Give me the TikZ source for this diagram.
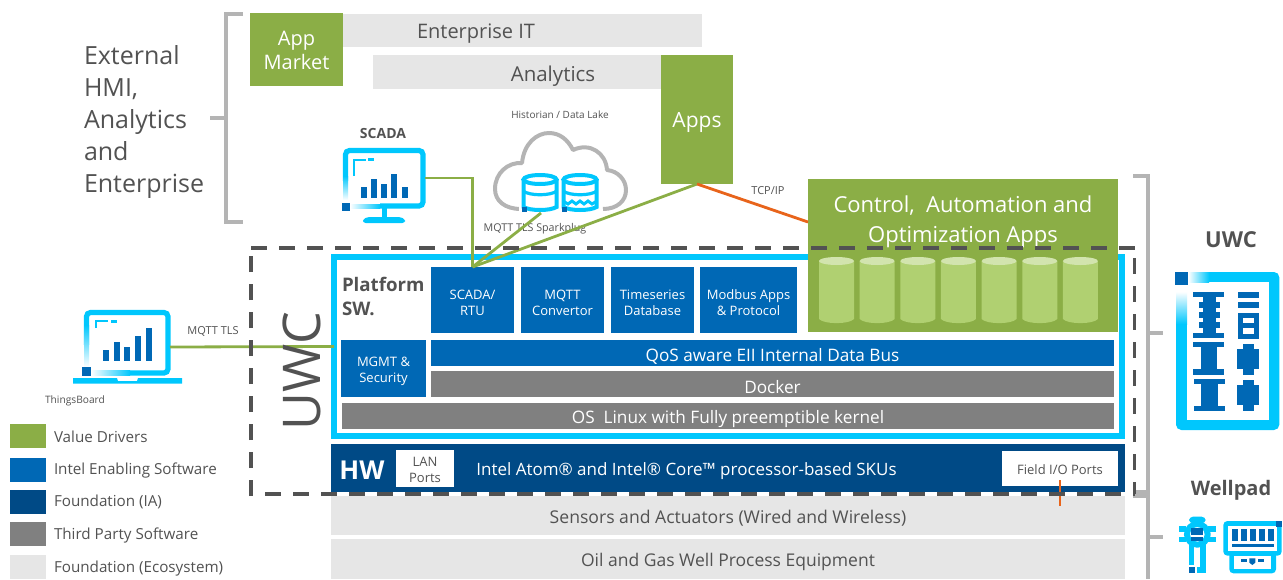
\documentclass[tikz,border=0pt]{standalone}
\usepackage{fontspec}
\setmainfont{Open Sans}
\usetikzlibrary{fit}
\definecolor{ucyan}{HTML}{00C7FD}
\definecolor{ublue}{HTML}{0068B5}
\definecolor{udark}{HTML}{004A86}
\definecolor{ugreen}{HTML}{8BAE46}
\definecolor{ugrey}{HTML}{808080}
\definecolor{ulight}{HTML}{E6E6E6}
\definecolor{utext}{HTML}{525252}
\definecolor{ubrk}{HTML}{B4B4B4}
\definecolor{uorange}{HTML}{E8641B}
\definecolor{ucylb}{HTML}{B0D071}
\definecolor{ucylt}{HTML}{D2E4AE}
\newcommand{\fsz}[2]{\fontsize{\dimexpr#1pt*3/4\relax}{\dimexpr#2pt*3/4\relax}\selectfont}
\newcommand{\tdy}{-2.2pt}
% \bx{name}{x1}{y1}{x2}{y2}{box style}{text style}{text}
\newcommand{\bx}[8]{%
  \pgfmathsetmacro{\bxw}{(#4-#2)*0.75}\pgfmathsetmacro{\bxh}{(#5-#3)*0.75}%
  \node[block,#6,minimum width=\bxw pt,minimum height=\bxh pt] (#1) at ({(#2+#4)/2},{(#3+#5)/2}) {};%
  \node[lab,text=white,#7] (#1text) at ([yshift=\tdy]#1.center) {#8};}
\tikzset{
  x=0.75pt,y=-0.75pt,
  block/.style={inner sep=0pt,outer sep=0pt},
  anchorbox/.style={inner sep=0pt,outer sep=0pt},
  lab/.style={inner sep=0pt,outer sep=0pt,text=utext,align=center},
  brk/.style={draw=ubrk,line width=2.6pt},
  link/.style={draw=ugreen,line width=2.1pt},
  olink/.style={draw=uorange,line width=2.1pt},
  dashline/.style={draw=utext,line width=2.7pt,dash pattern=on 12pt off 9pt},
  iconline/.style={draw=ucyan,line width=3.9pt,rounded corners=3pt},
  small/.style={font=\fsz{13}{16}},
  wide/.style={font=\fsz{17.2}{21}},
}
\begin{document}
\begin{tikzpicture}
\useasboundingbox (0,0) rectangle (1283,579);
% brackets
\draw[brk] (243,14) -- (226,14) -- (226,222) -- (243,222);
\draw[brk] (210,118) -- (226,118);
\draw[brk] (1133,176) -- (1148,176) -- (1148,492) -- (1133,492);
\draw[brk] (1148,333) -- (1163,333);
\draw[brk] (1133,496) -- (1148,496) -- (1148,579);
\draw[brk] (1148,537) -- (1163,537);
% top boxes
\node[block,fill=ulight,fit={(343,14)(702,47)}] (entit) {};
\node[lab,font=\fsz{20}{25}] (entittext) at (476,33.5) {Enterprise IT};
\node[block,fill=ulight,fit={(373,55)(662,89)}] (analytics) {};
\node[lab,font=\fsz{20.5}{25}] (analyticstext) at (553,76) {Analytics};
\renewcommand{\tdy}{-0.6pt}
\bx{appmarket}{250}{13}{343}{86}{fill=ugreen}{font=\fsz{20}{24}}{App\\Market}
\renewcommand{\tdy}{-2.2pt}
\bx{apps}{661}{55}{733}{184}{fill=ugreen}{font=\fsz{21}{25}}{Apps}
\node[lab,anchor=west,align=left,font=\fsz{25}{32}] (extlabel) at (84,122) {External\\HMI,\\Analytics\\and\\Enterprise};
% cloud
\draw[ubrk,line width=3pt,fill=white,line join=round]
  (521,209) .. controls (505,209) and (495,201) .. (495,189)
  .. controls (495,173) and (508,162) .. (522,163)
  .. controls (524,143) and (537,133) .. (549,133)
  .. controls (560,133) and (568,140) .. (573,150)
  .. controls (590,142) and (606,153) .. (607,170)
  .. controls (618,171) and (626,180) .. (626,190)
  .. controls (626,201) and (617,209) .. (603,209);
\node[lab,font=\fsz{10}{13}] (historian) at (560,115) {Historian / Data Lake};
% db icons
\foreach \cx in {540,580}{
  \fill[white] (\cx-21,176) rectangle (\cx+21,213);
  \draw[ucyan,line width=3pt] (\cx,179.5) ellipse [x radius=16.5,y radius=4.5];
  \draw[ucyan,line width=3pt] (\cx-16.5,179.5) -- (\cx-16.5,207) .. controls (\cx-10,211) and (\cx+10,211) .. (\cx+16.5,207) -- (\cx+16.5,179.5);
  \fill[ublue] (\cx-18,207) rectangle (\cx-13,212);
}
\draw[ucyan,line width=2.4pt] (523,191) .. controls (530,196) and (550,196) .. (557,191);
\draw[ucyan,line width=2.4pt] (563,191) .. controls (570,196) and (590,196) .. (597,191);
\draw[ucyan,line width=2.2pt] (563,201) -- (568,204) -- (572,201) -- (576,204) -- (580,201) -- (584,204) -- (588,201) -- (592,204) -- (597,201);
% SCADA icon
\draw[iconline] (345.5,150.5) rectangle (423,206);
\fill[white] (341,181) rectangle (349,212);
\fill[white] (350,203) rectangle (380,210);
\shade[top color=ucyan,bottom color=white] (343,176) rectangle (348,200);
\shade[left color=white,right color=ucyan] (350,204) rectangle (380,208.5);
\fill[ublue] (342,203) rectangle (350,211);
\draw[ucyan,line width=1.9pt] (354,176) -- (354,160) -- (366,160);
\fill[ucyan] (368,158) rectangle (374,161);
\foreach \a/\b in {361/187,371/179,381/184,391/174,402/187}{\fill[ublue] (\a,\b) rectangle (\a+6,198);}
\fill[ucyan] (381.5,208) rectangle (387,218);
\fill[ucyan,rounded corners=2pt] (363,223) -- (363,219) -- (368,217) -- (400,217) -- (405,219) -- (405,223) -- cycle;
\node[anchorbox,fit={(343,148)(425,208)}] (scada) {};
\node[lab,font=\bfseries\fsz{14}{16}] (scadalabel) at (383,133) {SCADA};
% Laptop
\draw[iconline] (86.5,312.5) rectangle (168,373);
\fill[white] (82,345) rectangle (91,380);
\fill[white] (91,368) rectangle (130,377);
\shade[top color=ucyan,bottom color=white] (84,325) rectangle (89,367);
\shade[left color=white,right color=ucyan] (91,370.5) rectangle (130,375.5);
\fill[ublue] (82,367) rectangle (91,376);
\draw[ucyan,line width=1.9pt] (96,328) -- (96,321) -- (108,321);
\fill[ucyan] (111,320) rectangle (117,323);
\foreach \a/\b in {103/350,114/342,124/347,135/336,146/328}{\fill[ublue] (\a,\b) rectangle (\a+6,361);}
\fill[ucyan] (73,378) -- (117,378) -- (118,381) -- (137,381) -- (138,378) -- (182,378) -- (182,383.5) -- (73,383.5) -- cycle;
\node[anchorbox,fit={(84,310)(170,384)}] (laptop) {};
\node[lab,font=\fsz{10.2}{13}] (thingsboard) at (75,400.5) {ThingsBoard};
% Legend
\foreach \nm/\yy/\ty/\col/\txt in {a/424/442/ugreen/Value Drivers,b/458/474.5/ublue/Intel Enabling Software,c/490/506.5/udark/Foundation (IA),d/522/539.5/ugrey/Third Party Software,e/555/572.5/ulight/Foundation (Ecosystem)}{
  \node[anchorbox,fill=\col,fit={(10,\yy)(46,\yy+23.5)}] (leg\nm) {};
  \node[lab,anchor=base west,font=\fsz{15.2}{18}] (legt\nm) at (54,\ty) {\txt};
}
% lower bars
\bx{sensors}{331}{496}{1125}{535}{fill=ulight}{text=utext,font=\fsz{17.6}{21}}{Sensors and Actuators (Wired and Wireless)}
\bx{oilgas}{331}{539}{1125}{579}{fill=ulight}{text=utext,font=\fsz{17.5}{21}}{Oil and Gas Well Process Equipment}
\node[block,fill=udark,fit={(331,444)(1125,492)}] (hw) {};
\node[lab,text=white,font=\bfseries\fsz{26}{30}] (hwlabel) at (362,470) {HW};
\node[lab,text=white,font=\fsz{17}{21}] (hwtext) at (686.5,471) {Intel Atom® and Intel® Core™ processor-based SKUs};
\renewcommand{\tdy}{-0.8pt}
\bx{lan}{396}{450}{454}{487}{fill=white}{text=utext,small}{LAN\\Ports}
\bx{field}{1002}{451}{1118}{486}{fill=white}{text=utext,small}{Field I/O Ports}
\renewcommand{\tdy}{-2.2pt}
\coordinate (fieldtop) at (1060,480);
\coordinate (fieldbot) at (1060,506);
\draw[olink] (fieldtop) -- (fieldbot);
% platform frame
\node[anchorbox,draw=ucyan,line width=4.5pt,fit={(334,257)(1122,436)}] (frame) {};
\node[lab,anchor=west,align=left,font=\bfseries\fsz{18.7}{24}] (platform) at (342,296) {Platform\\SW.};
\bx{scadartu}{431}{267}{514}{333}{fill=ublue}{small}{SCADA/\\RTU}
\bx{mqtt}{521}{267}{604}{333}{fill=ublue}{small}{MQTT\\Convertor}
\bx{tsdb}{611}{267}{694}{333}{fill=ublue}{small}{Timeseries\\Database}
\bx{modbus}{700}{267}{797}{333}{fill=ublue}{small}{Modbus Apps\\\& Protocol}
\bx{mgmt}{341}{340}{426}{397}{fill=ublue}{small}{MGMT \&\\Security}
\bx{qos}{431}{340}{1114}{366}{fill=ublue}{wide}{QoS aware EII Internal Data Bus}
\bx{docker}{431}{371}{1114}{397}{fill=ugrey}{wide}{Docker}
\bx{os}{342}{403}{1114}{429}{fill=ugrey}{wide}{OS\ \ Linux with Fully preemptible kernel}
% control
\node[block,fill=ugreen,fit={(808,179)(1118,332)}] (control) {};
\node[lab,text=white,font=\fsz{22}{30}] (controltext) at (963,222) {Control,\ \ Automation and\\Optimization Apps};
\foreach \i in {0,...,6}{
  \pgfmathsetmacro{\cxx}{819+40.65*\i}
  \fill[ucylb] (\cxx,261) -- (\cxx,319) .. controls (\cxx+5,324.5) and (\cxx+30,324.5) .. (\cxx+35,319) -- (\cxx+35,261) -- cycle;
  \fill[ucylt] (\cxx+17.5,261) ellipse [x radius=17.5,y radius=4];
}
% labels over links
\node[lab,font=\fsz{10.7}{13}] (sparkplug) at (535,229) {MQTT TLS Sparkplug};
\node[lab,font=\fsz{11}{13}] (mqtttls) at (213,331) {MQTT TLS};
\node[lab,font=\fsz{11}{13}] (tcpip) at (768,191) {TCP/IP};
% connectors
\coordinate (histfoot) at (541,213);
\coordinate (controlin) at (808,222);
\draw[link] (scada.east) -| (scadartu.north);
\draw[link] (histfoot) -- (scadartu.north);
\draw[link] (apps.south) -- (scadartu.north);
\draw[link] (laptop.east) -- (frame.west);
\draw[olink] (apps.south) -- (controlin);
% dashed box
\draw[dashline] (251,248) -- (1135,248);
\draw[dashline] (251,496) -- (251,248);
\draw[dashline] (265,494) -- (1135,494);
\draw[dashline] (1134.5,258) -- (1134.5,494);
\node[lab,rotate=90,font=\fsz{52}{56}] (uwcbig) at (302,371) {UWC};
% UWC icon
\node[lab,font=\bfseries\fsz{22}{24}] (uwcr) at (1231,240) {UWC};
\node[lab,font=\bfseries\fsz{20}{24}] (wellpad) at (1231,490) {Wellpad};
\begin{scope}[shift={(1140,170)},x=0.25pt,y=-0.25pt]
  \fill[ucyan,rounded corners=4pt] (108,306) -- (418,306) -- (418,780) -- (108,780) -- cycle;
  \fill[white] (141,337) rectangle (386,750);
  \fill[white] (100,300) rectangle (152,337);
  \fill[white] (100,300) rectangle (141,460);
  \shade[left color=white,right color=ucyan] (145,306) rectangle (207,337);
  \shade[top color=white,bottom color=ucyan] (108,365) rectangle (141,462);
  \fill[ublue] (105,306) rectangle (145,345);
  \foreach \xa/\ya/\xb/\yb in {160/366/253/382,190/382/228/490,177/397/240/413,177/425/240/443,177/455/240/473,160/490/253/505,160/516/253/531,182/531/232/598,160/598/253/614,163/626/255/641,184/641/234/708,163/708/255/724,294/366/357/383,294/396/357/413,294/428/357/506,309/522/342/538,291/538/358/598,309/598/342/614,309/630/342/645,291/645/358/706,309/706/342/722}
    {\fill[ublue] (\xa,\ya) rectangle (\xb,\yb);}
  \fill[white] (309,443) rectangle (342,460);
  \fill[white] (309,475) rectangle (342,492);
\end{scope}
% Wellpad icon
\begin{scope}[shift={(1170,510)},x=0.25pt,y=-0.25pt]
  \fill[ucyan,rounded corners=3pt] (57,20) rectangle (107,40);
  \fill[ucyan] (27,48) rectangle (48,65);
  \fill[ucyan] (27,80) rectangle (48,95);
  \fill[ucyan] (115,48) rectangle (138,65);
  \fill[ucyan] (115,80) rectangle (138,95);
  \fill[ucyan] (57,100) rectangle (73,165);
  \fill[ucyan] (90,100) rectangle (107,188);
  \fill[ucyan] (80,172) rectangle (107,188);
  \draw[ucyan,line width=4.5pt,fill=white] (82,73) circle [radius=31];
  \fill[ublue] (63,55) rectangle (100,76);
  \fill[ublue] (63,81) rectangle (100,93);
  \fill[ublue] (57,171) rectangle (76,189);
  \fill[ucyan,rounded corners=3pt] (160,33) rectangle (335,137);
  \fill[ucyan,rounded corners=3pt] (178,122) rectangle (318,190);
  \fill[white] (193,137) rectangle (303,176);
  \fill[white] (175,48) rectangle (320,122);
  \fill[ublue] (318,33) rectangle (336,50);
  \foreach \a in {186,213,240,267,294}{\fill[ublue] (\a,57) rectangle (\a+18,93);}
  \fill[ublue] (186,102) rectangle (312,111);
  \fill[ublue] (213,147) rectangle (231,155);
  \fill[ublue] (264,147) rectangle (282,155);
  \fill[ublue] (238,145) -- (256,145) -- (256,158) -- (247,165) -- (238,158) -- cycle;
\end{scope}
\end{tikzpicture}
\end{document}
